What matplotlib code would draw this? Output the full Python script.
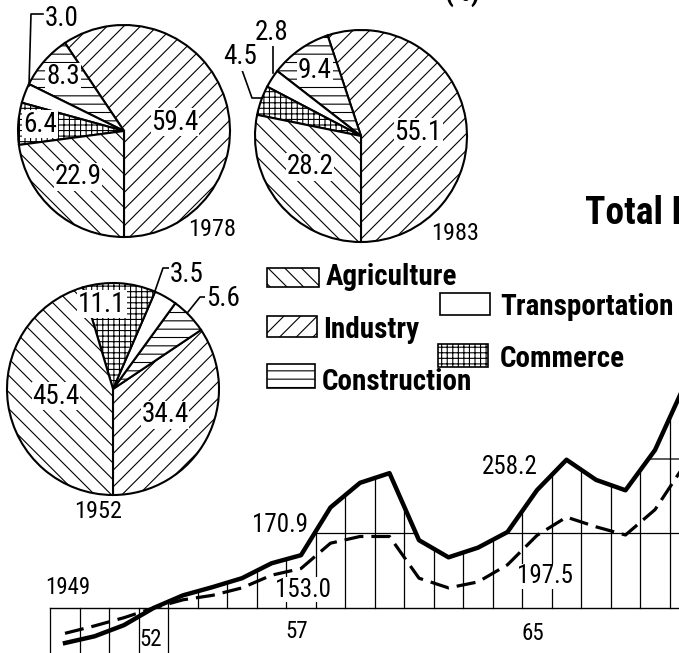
import numpy as np
import matplotlib
matplotlib.use("Agg")
import matplotlib.pyplot as plt
from matplotlib.patches import Rectangle

plt.rcParams['font.family'] = ['Roboto Condensed', 'Roboto', 'DejaVu Sans']
plt.rcParams['hatch.linewidth'] = 0.8

# pie shares (%), counter-clockwise from the bottom
sectors = ['Industry', 'Construction', 'Transportation', 'Commerce', 'Agriculture']
share_1952 = [34.4, 5.6, 3.5, 11.1, 45.4]
share_1978 = [59.4, 8.3, 3.0, 6.4, 22.9]
share_1983 = [55.1, 9.4, 2.8, 4.5, 28.2]
hatch_of = {'Agriculture': '\\\\', 'Industry': '//', 'Construction': '--',
            'Transportation': '', 'Commerce': '+++'}

# index, 1952 = 100
years = list(range(1949, 1971))
total_product = [53, 62, 77, 100, 117, 128, 140, 160, 170.9, 235, 268, 281,
                 191, 168, 181, 202, 258.2, 299, 272, 258, 312, 399]
national_income = [66, 76, 87, 100, 111, 117, 127, 144, 153.0, 187, 196, 196,
                   140, 127, 135, 158, 197.5, 222, 209, 198, 232, 292]

W, H = 679, 653
fig = plt.figure(figsize=(W / 100, H / 100), dpi=100)

# ---- line chart (index) ----
lx = fig.add_axes([0, 0, 1, 1])
lx.axis('off')
px_year, x0 = 29.5, 65      # pixels per year, x of 1949
px_unit, y100 = 0.745, 608  # pixels per index point, y of 100
lx.set_xlim(1949 - x0 / px_year, 1949 + (W - x0) / px_year)
lx.set_ylim(100 - (H - y100) / px_unit, 100 + y100 / px_unit)
ybot = lx.get_ylim()[0]

lx.plot([1948.5, 1971], [100, 100], color='black', lw=1.0)
for b in np.arange(1948.5, 1970, 1.0):
    t = np.interp(b, years, total_product)
    lo = ybot if b <= 1952.5 else 100
    lx.plot([b, b], [lo, max(t, 100)], color='black', lw=0.9)

xs = np.linspace(1949, 1970, 3000)
top = np.interp(xs, years, total_product)
for level in (200, 300):
    lx.plot(xs, np.where(top > level, level, np.nan), color='black', lw=0.9)

lx.plot(years, total_product, color='black', lw=3.2, solid_joinstyle='round')
lx.plot(years, national_income, color='black', lw=2.3, dashes=(6, 2.5))

for yr, lab, off in [(1949, '1949', (3, 20)), (1952, '52', (-3, -32)),
                     (1957, '57', (-4, -23)), (1965, '65', (-4, -25))]:
    lx.annotate(lab, (yr, 100), xytext=off, textcoords='offset pixels',
                ha='center', va='center', fontsize=16.5)

i57, i65 = years.index(1957), years.index(1965)
for x, v, off in [(1957, total_product[i57], (-21, 30)),
                  (1957, national_income[i57], (2, -21)),
                  (1965, total_product[i65], (-27, 23)),
                  (1965, national_income[i65], (8, -41))]:
    lx.annotate(f'{v:.1f}', (x, v), xytext=off, textcoords='offset pixels',
                ha='center', va='center', fontsize=18,
                bbox=dict(fc='white', ec='none', pad=0.5))

# ---- pies, legend and titles in pixel coordinates ----
ax = fig.add_axes([0, 0, 1, 1])
ax.patch.set_alpha(0)


def draw_pie(shares, cx, cy, r=106):
    ax.pie(shares, colors=['white'] * 5, radius=r, center=(cx, cy),
           startangle=90, counterclock=False,
           hatch=[hatch_of[s] for s in sectors],
           wedgeprops=dict(edgecolor='black', linewidth=1.5))


draw_pie(share_1978, 124, 131)
draw_pie(share_1983, 361, 136)
draw_pie(share_1952, 113, 389)

ax.set_xlim(0, W)
ax.set_ylim(H, 0)
ax.axis('off')

box = dict(fc='white', ec='none', pad=0.6)
pie_labels = [
    (share_1978[0], 175, 122), (share_1978[4], 78, 177), (share_1978[3], 40, 124),
    (share_1978[1], 63, 77), (share_1978[2], 62, 19),
    (share_1983[0], 418, 132), (share_1983[4], 310, 167), (share_1983[1], 315, 70),
    (share_1983[2], 272, 32), (share_1983[3], 240, 57),
    (share_1952[4], 56, 396), (share_1952[0], 165, 415), (share_1952[3], 102, 304),
    (share_1952[2], 187, 274), (share_1952[1], 223, 298),
]
for v, x, y in pie_labels:
    ax.text(x, y, f'{v:.1f}', ha='center', va='center', fontsize=19.5, bbox=box)

for yr, x, y in [('1978', 212, 230), ('1983', 455, 233), ('1952', 98, 512)]:
    ax.text(x, y, yr, ha='center', va='center', fontsize=17.5)

# leader lines for the thin slices
leaders = [
    [(43, 14), (31, 14), (29, 86)],
    [(261, 44), (285, 44)], [(273, 44), (273, 73)],
    [(229, 70), (254, 70)], [(242, 70), (252, 98), (262, 98)],
    [(170, 268), (163, 268), (155, 291)],
    [(207, 297), (200, 297), (188, 312)],
]
for pts in leaders:
    lxs, lys = zip(*pts)
    ax.plot(lxs, lys, color='black', lw=1.2)

# legend: name, patch box, text x, text baseline
legend_items = [('Agriculture', 267, 268, 52, 19, 326, 285),
                ('Industry', 267, 316, 50, 21, 323, 338),
                ('Construction', 267, 364, 48, 24, 322, 390),
                ('Transportation', 440, 293, 50, 22, 500, 315),
                ('Commerce', 438, 344, 50, 23, 500, 367)]
for name, x, y, w, h, tx, ty in legend_items:
    ax.add_patch(Rectangle((x, y), w, h, fc='white', ec='black', lw=1.2,
                           hatch=hatch_of[name]))
    ax.text(tx, ty, name, ha='left', va='baseline',
            fontsize=21, fontweight='bold')

ax.text(585, 213, 'Total Product of Society', ha='left', va='center',
        fontsize=27, fontweight='bold')
ax.text(462, 1, '(%)', ha='center', va='baseline', fontsize=20, fontweight='bold')

fig.savefig('out.png', dpi=100)
